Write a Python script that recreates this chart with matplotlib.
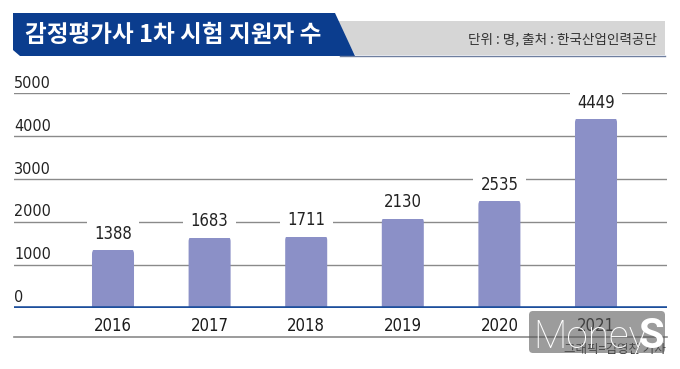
import matplotlib
matplotlib.use("Agg")
import matplotlib.pyplot as plt
from matplotlib.patches import Polygon, FancyBboxPatch
from matplotlib import font_manager as fm
import numpy as np

years = ["2016", "2017", "2018", "2019", "2020", "2021"]
applicants = [1388, 1683, 1711, 2130, 2535, 4449]
yticks = [0, 1000, 2000, 3000, 4000, 5000]
title = "감정평가사 1차 시험 지원자 수"
subtitle = "단위 : 명, 출처 : 한국산업인력공단"
credit = "그래픽=김영찬 기자"

W, H = 680, 369
DPI = 100
fig = plt.figure(figsize=(W / DPI, H / DPI), dpi=DPI)
fig.patch.set_facecolor("white")

names = {f.name for f in fm.fontManager.ttflist}
cond = [f for f in fm.fontManager.ttflist if f.name == "DejaVu Sans" and f.stretch == "condensed" and f.weight in (400, "normal")]
if "Liberation Sans Narrow" in names:
    NUM = dict(family=["Liberation Sans Narrow", "DejaVu Sans"])
elif cond:
    NUM = dict(family=["DejaVu Sans"], fontstretch="condensed")
else:
    NUM = dict(family=["Liberation Sans", "DejaVu Sans"])
KR = ["Noto Sans CJK KR", "DejaVu Sans"]

ov = fig.add_axes([0, 0, 1, 1], zorder=3)
ov.set_xlim(0, W)
ov.set_ylim(H, 0)
ov.axis("off")
ov.patch.set_alpha(0)

left_px, right_px = 14, 667
y0_px, y5000_px = 307.7, 93.0
ax = fig.add_axes([left_px / W, (H - y0_px) / H, (right_px - left_px) / W,
                   (y0_px - y5000_px) / H], zorder=2)
ax.patch.set_alpha(0)
centers_px = [113, 210, 307, 403, 499, 596]
spacing = (centers_px[-1] - centers_px[0]) / 5
xmin = -(centers_px[0] - left_px) / spacing
xmax = xmin + (right_px - left_px) / spacing
ax.set_xlim(xmin, xmax)
ax.set_ylim(0, 5000)
for s in ax.spines.values():
    s.set_visible(False)
ax.set_xticks([])
ax.set_yticks([])

for t in yticks[1:]:
    ax.axhline(t, color="#8a8a8a", lw=1.0, zorder=1)
for t in yticks:
    ax.text(0, t + 55, str(t), transform=ax.get_yaxis_transform(), ha="left",
            va="bottom", fontsize=11.5, color="#222222", **NUM)
ax.axhline(0, color="#1d4f9c", lw=2.6, zorder=5)

x = np.arange(len(years))
bw = 0.435
bars = ax.bar(x, applicants, width=bw, color="none", edgecolor="none")
px_per_y = (y0_px - y5000_px) / 5000
aspect = spacing / px_per_y
r = 6 / spacing
for b, v in zip(bars, applicants):
    p = FancyBboxPatch((b.get_x(), -r * aspect * 2), b.get_width(), v + r * aspect * 2,
                       boxstyle=f"round,pad=0,rounding_size={r}",
                       mutation_aspect=aspect, facecolor="#8b90c7",
                       edgecolor="none", zorder=3, clip_on=True)
    ax.add_patch(p)
    ax.text(b.get_x() + b.get_width() / 2, v + 120, f"{v}", ha="center",
            va="bottom", fontsize=12, color="#222222", zorder=4,
            bbox=dict(boxstyle="square,pad=0.45", facecolor="white",
                      edgecolor="none"), **NUM)

for xi, yr in zip(x, years):
    ax.text(xi, -220, yr, ha="center", va="top", fontsize=12, color="#1a1a1a",
            clip_on=False, **NUM)

ov.plot([14, 667], [337, 337], color="#8a8a8a", lw=1.2, zorder=1)

ov.add_patch(Polygon([(336, 21), (665, 21), (665, 55), (355, 55)],
                     closed=True, facecolor="#d6d6d6", edgecolor="none"))
ov.plot([340, 665], [55.5, 55.5], color="#6f7f9f", lw=1.0)
ov.add_patch(Polygon([(13, 13), (335, 13), (355, 56), (20, 56), (13, 50)],
                     closed=True, facecolor="#0b3d8e", edgecolor="none"))
ov.text(25, 35, title, color="white", fontsize=17, fontweight="bold",
        family=KR, ha="left", va="center")
ov.text(657, 39, subtitle, color="#333333", fontsize=9.8, family=KR,
        ha="right", va="center")

ov.text(666, 349, credit, color="#333333", fontsize=9, family=KR,
        ha="right", va="center", zorder=3)
wm = FancyBboxPatch((529, 311), 136, 42, boxstyle="round,pad=0,rounding_size=4",
                    facecolor="#5a5a5a", alpha=0.6, edgecolor="none", zorder=4)
ov.add_patch(wm)
ov.text(533, 348, "Money", color="white", fontsize=28, family=["Roboto", "DejaVu Sans"],
        fontweight=100, ha="left", va="baseline", zorder=5)
ov.text(664, 348, "S", color="white", fontsize=30, family=["Roboto", "DejaVu Sans"],
        fontweight="bold", ha="right", va="baseline", zorder=5)

fig.savefig("out.png", dpi=DPI)
